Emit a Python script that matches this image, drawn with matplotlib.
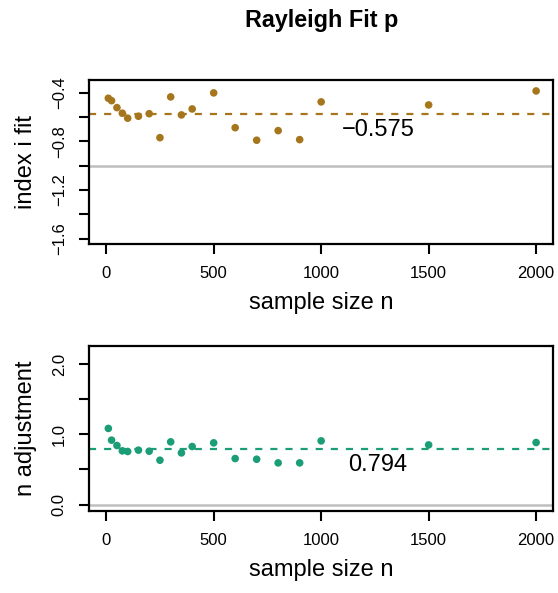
import matplotlib
matplotlib.use("Agg")
import matplotlib.pyplot as plt

plt.rcParams['font.family'] = ['Liberation Sans', 'DejaVu Sans']

# sample sizes
n = [10, 25, 50, 75, 100, 150, 200, 250, 300, 350, 400, 500, 600, 700, 800, 900, 1000, 1500, 2000]
# fitted index i
index_fit = [-0.446, -0.466, -0.523, -0.569, -0.610, -0.594, -0.573, -0.770, -0.435, -0.583,
             -0.534, -0.402, -0.688, -0.791, -0.712, -0.786, -0.476, -0.501, -0.386]
# n adjustment
n_adj = [1.083, 0.916, 0.840, 0.764, 0.755, 0.774, 0.759, 0.631, 0.892, 0.735,
         0.826, 0.878, 0.655, 0.645, 0.593, 0.593, 0.906, 0.849, 0.883]

index_mean = -0.575
adj_mean = 0.794
index_ref = -1.0
adj_ref = 0.0

x_ticks = [0, 500, 1000, 1500, 2000]
top_ticks = [-0.4, -0.6, -0.8, -1.0, -1.2, -1.4, -1.6]
top_labels = ['\u22120.4', '', '\u22120.8', '', '\u22121.2', '', '\u22121.6']
bot_ticks = [0.0, 0.5, 1.0, 1.5, 2.0]
bot_labels = ['0.0', '', '1.0', '', '2.0']

brown = '#A6761D'
green = '#1B9E77'

fig = plt.figure(figsize=(5.58, 5.93), dpi=100)
ax1 = fig.add_axes([0.1595, 0.5885, 0.8321, 0.2766])
ax2 = fig.add_axes([0.1595, 0.1383, 0.8321, 0.2782])


def style_axis(ax, yticks, ylabels, ylabel):
    ax.set_xlim(-80, 2080)
    ax.set_xticks(x_ticks)
    ax.set_xticklabels([str(t) for t in x_ticks])
    ax.set_yticks(yticks)
    ax.set_yticklabels(ylabels, rotation=90, va='center')
    ax.tick_params(length=7.5, width=1.5, pad=8.5, labelsize=12, color='black')
    for s in ax.spines.values():
        s.set_linewidth(1.6)
    ax.set_xlabel('sample size n', fontsize=17, labelpad=8)
    ax.set_ylabel(ylabel, fontsize=17, labelpad=11)


ax1.axhline(index_ref, color='#BEBEBE', lw=1.8, zorder=1)
ax1.axhline(index_mean, color=brown, lw=1.6, ls=(0, (3.2, 3.6)), zorder=2)
ax1.scatter(n, index_fit, s=30, color=brown, edgecolors='none', zorder=3)
ax1.text(1265, index_mean - 0.132, '\u22120.575', fontsize=17, ha='center', va='center')
ax1.set_ylim(-1.644, -0.296)
style_axis(ax1, top_ticks, top_labels, 'index i fit')

ax2.axhline(adj_ref, color='#BEBEBE', lw=1.8, zorder=1)
ax2.axhline(adj_mean, color=green, lw=1.6, ls=(0, (3.2, 3.6)), zorder=2)
ax2.scatter(n, n_adj, s=30, color=green, edgecolors='none', zorder=3)
ax2.text(1265, adj_mean - 0.234, '0.794', fontsize=17, ha='center', va='center')
ax2.set_ylim(-0.091, 2.255)
style_axis(ax2, bot_ticks, bot_labels, 'n adjustment')

fig.text(321.5 / 558, 1 - 21 / 593, 'Rayleigh Fit p', fontsize=16.8,
         fontweight='bold', ha='center', va='center')

fig.savefig('out.png', dpi=100)
